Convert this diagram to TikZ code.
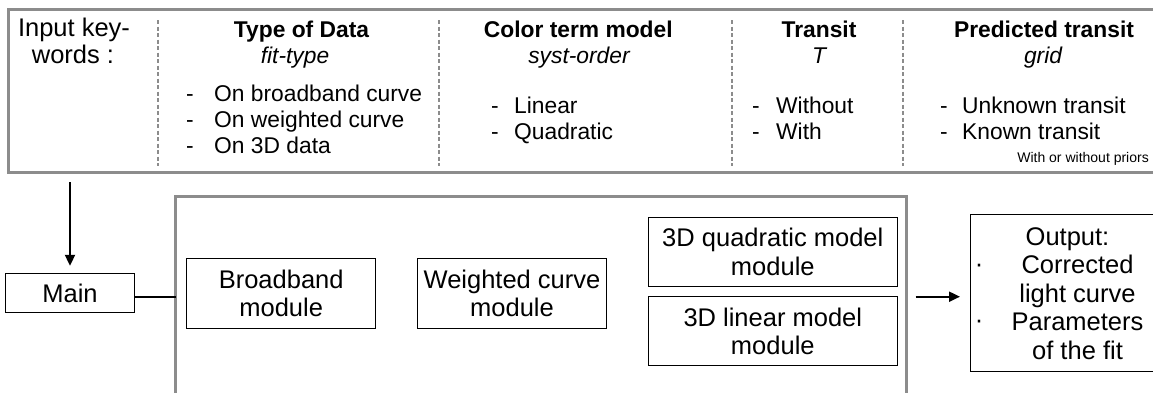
\documentclass[tikz,border=0pt]{standalone}
\usepackage{fontspec}
\setmainfont{Liberation Sans}
\usetikzlibrary{arrows.meta}
\definecolor{framegray}{RGB}{140,140,140}
\begin{document}
\begin{tikzpicture}[x=1pt,y=-1pt,
  topfont/.style={font=\fontsize{22.8}{26.6}\selectfont, inner sep=0pt, anchor=base},
  listtxt/.style={font=\fontsize{22.8}{26.6}\selectfont, inner sep=0pt, anchor=base west},
  boxnode/.style={draw=black, line width=1pt, font=\fontsize{25.5}{28.5}\selectfont, align=center, inner sep=0pt},
  framebox/.style={draw=framegray, line width=2.5pt, outer sep=0pt, inner sep=0pt},
  sepline/.style={draw=framegray, line width=2pt, dash pattern=on 4pt off 2.5pt},
  arr/.style={line width=2pt, -{Triangle[length=11pt,width=10pt]}},
  link/.style={line width=2pt}]
\useasboundingbox (0,0) rectangle (1153,392);
\clip (0,0) rectangle (1153,392);

% top keyword frame
\node[framebox, anchor=north west, minimum width=1180pt, minimum height=163pt] (kw) at (8.7,9.5) {};
\draw[sepline] (157.7,20) -- (157.7,166);
\draw[sepline] (439.3,20) -- (439.3,166);
\draw[sepline] (732.3,20) -- (732.3,166);
\draw[sepline] (903.3,20) -- (903.3,166);

\node[topfont, font=\fontsize{25.5}{26.6}\selectfont] (lab1) at (74,36.7) {Input key-};
\node[topfont, font=\fontsize{25.5}{26.6}\selectfont] (lab2) at (73,63.3) {words :};

\node[topfont] (t1) at (301.5,37) {\bfseries Type of Data};
\node[topfont] (i1) at (295,63.3) {\itshape fit-type};
\node[topfont] (t2) at (578.3,37) {\bfseries Color term model};
\node[topfont] (i2) at (579,63.3) {\itshape syst-order};
\node[topfont] (t3) at (819,37) {\bfseries Transit};
\node[topfont] (i3) at (819,63.3) {\itshape T};
\node[topfont] (t4) at (1044,37) {\bfseries Predicted transit};
\node[topfont] (i4) at (1043,63.3) {\itshape grid};

% column 1
\node[topfont] (d11) at (190,101.7) {-};
\node[listtxt] (l11) at (214,101.7) {On broadband curve};
\node[topfont] (d12) at (190,127.7) {-};
\node[listtxt] (l12) at (214,127.7) {On weighted curve};
\node[topfont] (d13) at (190,153.3) {-};
\node[listtxt] (l13) at (214,153.3) {On 3D data};
% column 2
\node[topfont] (d21) at (495,113.3) {-};
\node[listtxt] (l21) at (514,113.3) {Linear};
\node[topfont] (d22) at (495,139.3) {-};
\node[listtxt] (l22) at (514,139.3) {Quadratic};
% column 3
\node[topfont] (d31) at (756,113.3) {-};
\node[listtxt] (l31) at (776,113.3) {Without};
\node[topfont] (d32) at (756,139.3) {-};
\node[listtxt] (l32) at (776,139.3) {With};
% column 4
\node[topfont] (d41) at (944,113.3) {-};
\node[listtxt] (l41) at (962,113.3) {Unknown transit};
\node[topfont] (d42) at (944,139.3) {-};
\node[listtxt] (l42) at (962,139.3) {Known transit};
\node[inner sep=0pt, anchor=base east, font=\fontsize{14}{16}\selectfont] (pri) at (1149,162.7) {With or without priors};

% bottom part
\node[framebox, anchor=north, minimum width=731pt, minimum height=240pt] (core) at (541.2,196.7) {};
\node[boxnode, minimum width=128.6pt, minimum height=39.4pt] (main) at (70,293) {Main};
\node[boxnode, minimum width=189pt, minimum height=70pt] (bb) at (281.2,293.3) {Broadband\\module};
\node[boxnode, minimum width=189.4pt, minimum height=70pt] (wc) at (512,293.3) {Weighted curve\\module};
\node[boxnode, minimum width=249pt, minimum height=69.4pt] (quad) at (772.8,252) {3D quadratic model\\module};
\node[boxnode, minimum width=249pt, minimum height=69pt] (lin) at (772.8,331.2) {3D linear model\\module};
\node[boxnode, minimum width=215pt, minimum height=156.7pt] (out) at (1077.5,293.3)
  {Output:\hspace*{20pt}\\Corrected\\light curve\\Parameters\\of the fit};
\node[inner sep=0pt, anchor=base, font=\fontsize{25.5}{28.5}\selectfont] (b1) at (979,272) {·};
\node[inner sep=0pt, anchor=base, font=\fontsize{25.5}{28.5}\selectfont] (b2) at (979,328.3) {·};

\coordinate (a0) at (70,182);
\draw[arr, shorten >=7pt] (a0) -- (main.north);
\coordinate (gl) at (175.7,296.7);
\draw[link] (main.east |- gl) -- (gl);
\coordinate (a1) at (915.7,296.7);
\draw[arr, shorten >=9.5pt] (a1) -- (out.west |- a1);
\end{tikzpicture}
\end{document}
